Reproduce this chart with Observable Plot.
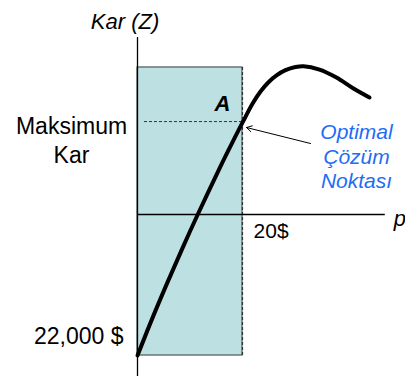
<!DOCTYPE html>
<html>
<head>
<meta charset="utf-8">
<script src="https://cdn.jsdelivr.net/npm/d3@7"></script>
<script src="https://cdn.jsdelivr.net/npm/@observablehq/plot@0.6"></script>
<style>
  html, body { margin: 0; padding: 0; background: #fff; }
  #chart svg { display: block; }
</style>
</head>
<body>
<div id="chart"></div>
<script>
// Price p ($) and profit Z (thousand $)
const priceP = [0, 2.86, 5.71, 8.57, 11.43, 15.81, 18.10, 20.19, 21.90, 23.43, 24.95, 26.48, 28.19, 30.10, 31.62, 34.67, 37.90, 41.14, 44.19];
const profitZ = [-22, -16.13, -10.59, -5.24, -0.08, 7.50, 11.28, 14.64, 17.27, 19.18, 20.64, 21.70, 22.52, 23.01, 23.14, 22.62, 21.38, 19.66, 18.26];

const optimalP = 20;        // "20$"
const maxProfit = 14.5;      // Maksimum Kar level
const fixedLoss = -22;       // 22,000 $
const regionTop = 22.94;     // top of shaded region

const yAxisExtent = [-25.3, 27.6];
const xAxisExtent = [0, 47.2];
const dashStart = 1.33;

const arrowFrom = {p: 32.95, z: 11.08};
const arrowTo = {p: 20.76, z: 13.57};

const labels = [
  {text: "Kar (Z)", p: -2.38, z: 29.0, anchor: "middle", style: "italic", weight: "normal", color: "#000", size: 22, lh: 1},
  {text: "Maksimum\nKar", p: -12.57, z: 8.11, anchor: "middle", style: "normal", weight: "normal", color: "#000", size: 23, lh: 1.26},
  {text: "22,000 $", p: -2.67, z: -20.28, anchor: "end", style: "normal", weight: "normal", color: "#000", size: 23, lh: 1},
  {text: "20$", p: 22.1, z: -3.59, anchor: "start", style: "normal", weight: "normal", color: "#000", size: 21, lh: 1},
  {text: "A", p: 16.19, z: 16.22, anchor: "middle", style: "italic", weight: "bold", color: "#000", size: 22, lh: 1},
  {text: "p", p: 48.8, z: -1.72, anchor: "start", style: "italic", weight: "normal", color: "#000", size: 22, lh: 1},
  {text: "Optimal\nÇözüm\nNoktası", p: 41.71, z: 4.06, anchor: "middle", style: "italic", weight: "normal", color: "#1f6cf5", size: 21, lh: 1.17}
];

const curve = priceP.map((p, i) => ({p, z: profitZ[i]}));

const font = "'Liberation Sans', Arial, sans-serif";

const textMarks = labels.map(d => Plot.text([d], {
  x: "p", y: "z", text: "text",
  textAnchor: d.anchor, lineAnchor: "bottom",
  fontSize: d.size, fontStyle: d.style, fontWeight: d.weight,
  fill: d.color, lineHeight: d.lh
}));

const chart = Plot.plot({
  width: 405,
  height: 376,
  margin: 0,
  style: {fontFamily: font, background: "#fff"},
  x: {domain: [-137 * 20 / 105, 268 * 20 / 105], axis: null},
  y: {domain: [-162 * 22 / 141, 214 * 22 / 141], axis: null},
  marks: [
    Plot.rect([{x1: 0, x2: optimalP, y1: fixedLoss, y2: regionTop}], {
      x1: "x1", x2: "x2", y1: "y1", y2: "y2", fill: "#bde0e3", stroke: "#4a5858", strokeWidth: 1.2
    }),
    Plot.ruleY([maxProfit], {x1: dashStart, x2: optimalP, stroke: "#333", strokeWidth: 1, strokeDasharray: "3,2"}),
    Plot.ruleX([optimalP], {y1: fixedLoss, y2: regionTop, stroke: "#333", strokeWidth: 1.2, strokeDasharray: "3,2"}),
    Plot.ruleX([0], {y1: yAxisExtent[0], y2: yAxisExtent[1], stroke: "#000", strokeWidth: 1.3}),
    Plot.ruleY([0], {x1: xAxisExtent[0], x2: xAxisExtent[1], stroke: "#000", strokeWidth: 1.3}),
    Plot.line(curve, {x: "p", y: "z", stroke: "#000", strokeWidth: 4, curve: "catmull-rom"}),
    Plot.arrow([arrowFrom], {x1: "p", y1: "z", x2: () => arrowTo.p, y2: () => arrowTo.z, stroke: "#000", strokeWidth: 1, headLength: 9}),
    ...textMarks
  ]
});

document.getElementById("chart").appendChild(chart);
</script>
</body>
</html>
